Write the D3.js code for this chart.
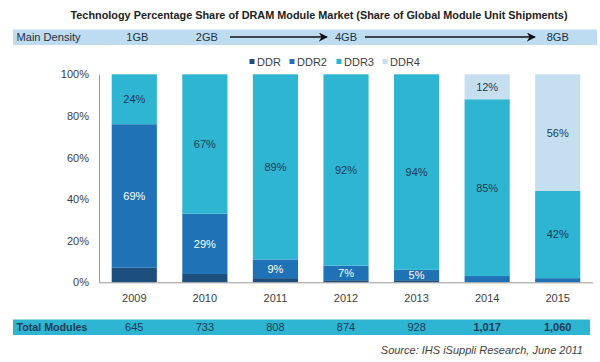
<!DOCTYPE html>
<html><head><meta charset="utf-8">
<script src="https://cdn.jsdelivr.net/npm/d3@7"></script>
<style>body{margin:0;background:#fff}svg{display:block}text{font-family:"Liberation Sans",Arial,sans-serif}</style>
</head><body><svg id="c" width="600" height="362"></svg>
<script>
const years = ["2009","2010","2011","2012","2013","2014","2015"];
const ddr  = [7, 4, 2, 1, 1, 0, 0];
const ddr2 = [69, 29, 9, 7, 5, 3, 2];
const ddr3 = [24, 67, 89, 92, 94, 85, 42];
const ddr4 = [0, 0, 0, 0, 0, 12, 56];
const seriesNames = ["DDR","DDR2","DDR3","DDR4"];
const totals = ["645","733","808","874","928","1,017","1,060"];
const densityLabels = [{year:"2009",label:"1GB"},{year:"2010",label:"2GB"},{year:"2012",label:"4GB"},{year:"2015",label:"8GB"}];
const yTicks = [0,20,40,60,80,100];

const colors = {DDR:"#1d4f7e",DDR2:"#2072b7",DDR3:"#2db5d2",DDR4:"#c6dff0"};
const labelColor = {DDR:"#fff",DDR2:"#ffffff",DDR3:"#1f3a55",DDR4:"#1f3a55"};
const showLabel = {DDR:false,DDR2:true,DDR3:true,DDR4:true};

const table = years.map((y,i)=>({year:y,DDR:ddr[i],DDR2:ddr2[i],DDR3:ddr3[i],DDR4:ddr4[i]}));
const stack = d3.stack().keys(seriesNames)(table);

const svg = d3.select("#c");
const x = d3.scaleBand().domain(years).range([99,593]).paddingInner(0.36).paddingOuter(0.18);
const y = d3.scaleLinear().domain([0,100]).range([282.3,74.3]);

// title
svg.append("text").attr("x",70.5).attr("y",19).attr("font-size",11).attr("font-weight","bold")
  .attr("fill","#222").attr("textLength",497).attr("lengthAdjust","spacingAndGlyphs")
  .text("Technology Percentage Share of DRAM Module Market (Share of Global Module Unit Shipments)");

// header band
svg.append("rect").attr("x",13).attr("y",29.5).attr("width",584).attr("height",15.5).attr("fill","#bedcf1");
svg.append("text").attr("x",16.5).attr("y",41.3).attr("font-size",11).attr("fill","#1f3040")
  .attr("textLength",64).attr("lengthAdjust","spacingAndGlyphs").text("Main Density");
densityLabels.forEach(d=>{
  svg.append("text").attr("x",x(d.year)+x.bandwidth()/2+ (d.year==="2009"?3:(d.year==="2010"?2:0))).attr("y",41.3)
    .attr("text-anchor","middle").attr("font-size",11).attr("fill","#1f3040").text(d.label);
});
const defs = svg.append("defs");
defs.append("marker").attr("id","ah").attr("viewBox","0 0 10 10").attr("refX",9).attr("refY",5)
  .attr("markerWidth",6).attr("markerHeight",6).attr("orient","auto")
  .append("path").attr("d","M0,0L10,5L0,10L3,5Z").attr("fill","#111");
[[230,327],[365,535]].forEach(a=>{
  svg.append("line").attr("x1",a[0]).attr("x2",a[1]).attr("y1",37).attr("y2",37)
    .attr("stroke","#111").attr("stroke-width",1.5).attr("marker-end","url(#ah)");
});

// legend
const legX = [249.5,289.5,336.5,382.5];
seriesNames.forEach((s,i)=>{
  svg.append("rect").attr("x",legX[i]).attr("y",59).attr("width",5).attr("height",5).attr("fill",colors[s]);
  svg.append("text").attr("x",legX[i]+7.5).attr("y",66).attr("font-size",11).attr("fill","#404040").text(s);
});

// bars
const g = svg.append("g");
stack.forEach(layer=>{
  const k = layer.key;
  g.selectAll(null).data(layer).join("rect")
    .attr("x",d=>x(d.data.year)).attr("width",x.bandwidth())
    .attr("y",d=>y(d[1])).attr("height",d=>Math.max(0,y(d[0])-y(d[1])))
    .attr("fill",colors[k]);
  if(showLabel[k]){
    g.selectAll(null).data(layer.filter(d=>d.data[k]>=5)).join("text")
      .attr("x",d=>x(d.data.year)+x.bandwidth()/2)
      .attr("y",d=>(y(d[0])+y(d[1]))/2+4)
      .attr("text-anchor","middle").attr("font-size",11).attr("fill",labelColor[k])
      .text(d=>d.data[k]+"%");
  }
});

// axes
const yAxis = svg.append("g").attr("transform","translate(99,0)")
  .call(d3.axisLeft(y).tickValues(yTicks).tickSize(0).tickPadding(10).tickFormat(d=>d+"%"));
yAxis.select(".domain").attr("stroke","#999");
yAxis.selectAll("text").attr("font-size",11).attr("fill","#404040").attr("font-family","Liberation Sans, Arial, sans-serif");
const xAxis = svg.append("g").attr("transform","translate(0,282.3)")
  .call(d3.axisBottom(x).tickSize(0).tickPadding(12));
xAxis.select(".domain").attr("stroke","#999").attr("d","M99,0.5H593");
xAxis.selectAll("text").attr("font-size",11).attr("fill","#404040").attr("font-family","Liberation Sans, Arial, sans-serif");

// totals band
svg.append("rect").attr("x",13).attr("y",319.5).attr("width",577).attr("height",15.5).attr("fill","#2db5d2");
svg.append("text").attr("x",16.5).attr("y",331.3).attr("font-size",11).attr("font-weight","bold").attr("fill","#1f3a55")
  .attr("textLength",71).attr("lengthAdjust","spacingAndGlyphs").text("Total Modules");
years.forEach((yr,i)=>{
  svg.append("text").attr("x",x(yr)+x.bandwidth()/2).attr("y",331.3).attr("text-anchor","middle")
    .attr("font-size",11).attr("font-weight",i>=5?"bold":"normal").attr("fill","#1f3a55").text(totals[i]);
});

// source
svg.append("text").attr("x",583).attr("y",354).attr("text-anchor","end").attr("font-size",11)
  .attr("font-style","italic").attr("fill","#404040").text("Source: IHS iSuppli Research, June 2011");
</script></body></html>
